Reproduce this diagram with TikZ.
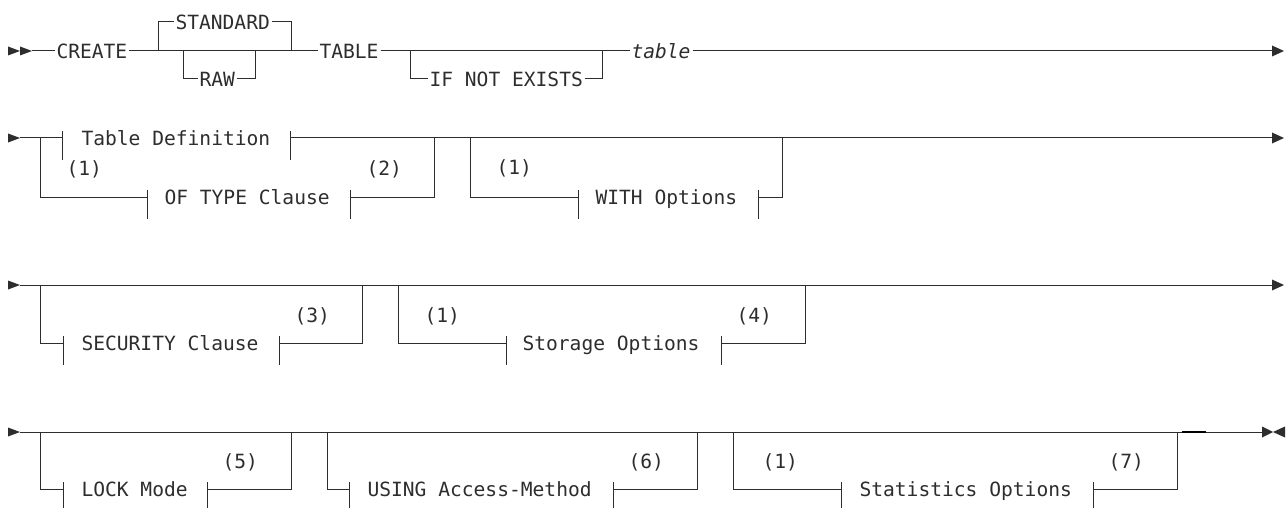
\documentclass[tikz,border=0pt]{standalone}
\usepackage{fontspec}
\newfontfamily\rr{DejaVu Sans Mono}
\definecolor{ink}{RGB}{45,45,45}
\newcommand\rbar[1]{\draw ([yshift=7pt]#1) -- ([yshift=-22pt]#1);}
\tikzset{
  kw/.style={anchor=west, inner xsep=1.5pt, inner ysep=0pt, text height=14.4pt, text depth=0pt,
             font=\rr\fontsize{19.6}{22}\selectfont, text=ink},
  note/.style={anchor=base west, inner sep=0pt, font=\rr\fontsize{19.6}{22}\selectfont, text=ink},
}
\begin{document}
\begin{tikzpicture}[x=1pt,y=-1pt,line width=1pt,draw=ink]
\path[use as bounding box] (0,0) rectangle (1287,508);
\clip (0,0) rectangle (1287,508);
% ---------------- row 1 ----------------
\fill[ink] (8,46.5) -- (20,51) -- (8,55.5) -- cycle;
\fill[ink] (20,46.5) -- (32,51) -- (20,55.5) -- cycle;
\coordinate (s1) at (32,51);
\node[kw] (create) at (54.5,51) {CREATE};
\node[kw] (standard) at (173.5,22) {STANDARD};
\node[kw] (raw) at (197.5,79) {RAW};
\node[kw] (tbl) at (317.5,51) {TABLE};
\node[kw] (ifne) at (427.5,79) {IF NOT EXISTS};
\node[kw] (tablev) at (629.5,51) {\itshape table};
\coordinate (j1a) at (158,51); \coordinate (j1b) at (291,51);
\coordinate (j2a) at (183,51); \coordinate (j2b) at (255,51);
\coordinate (j3a) at (410,51); \coordinate (j3b) at (602,51);
\coordinate (e1) at (1272,51);
\draw (s1) -- (create.west);
\draw (create.east) -- (tbl.west);
\draw (j1a) |- (standard.west); \draw (standard.east) -| (j1b);
\draw (j2a) |- (raw.west); \draw (raw.east) -| (j2b);
\draw (tbl.east) -- (tablev.west);
\draw (j3a) |- (ifne.west); \draw (ifne.east) -| (j3b);
\draw (tablev.east) -- (e1);
\fill[ink] (1272,45.5) -- (1284,51) -- (1272,56.5) -- cycle;
% ---------------- row 2 ----------------
\fill[ink] (8,133.5) -- (20,138) -- (8,142.5) -- cycle;
\coordinate (s2) at (20,138);
\coordinate (e2) at (1272,138);
\coordinate (b2a) at (62,138); \coordinate (b2b) at (290,138);
\node[kw] (tdef) at (79.5,138) {Table Definition};
\draw (s2) -- (b2a); \rbar{b2a}
\rbar{b2b} \draw (b2b) -- (e2);
\coordinate (j4a) at (40,138); \coordinate (j4b) at (434,138);
\coordinate (b2c) at (147,197); \coordinate (b2d) at (350,197);
\node[kw] (oftype) at (162.5,197) {OF TYPE Clause};
\draw (j4a) |- (b2c); \rbar{b2c}
\rbar{b2d} \draw (b2d) -| (j4b);
\node[note] (n21) at (66,175.2) {(1)};
\node[note] (n22) at (366,175.2) {(2)};
\coordinate (j5a) at (470,138); \coordinate (j5b) at (782,138);
\coordinate (b2e) at (578,197); \coordinate (b2f) at (758,197);
\node[kw] (withopt) at (593.5,197) {WITH Options};
\draw (j5a) |- (b2e); \rbar{b2e}
\rbar{b2f} \draw (b2f) -| (j5b);
\node[note] (n23) at (496,174.7) {(1)};
\fill[ink] (1272,132.5) -- (1284,138) -- (1272,143.5) -- cycle;
% ---------------- row 3 ----------------
\fill[ink] (8,280.5) -- (20,285) -- (8,289.5) -- cycle;
\coordinate (s3) at (20,285);
\coordinate (e3) at (1272,285);
\draw (s3) -- (e3);
\coordinate (j6a) at (40,285); \coordinate (j6b) at (362,285);
\coordinate (b3a) at (63,343); \coordinate (b3b) at (279,343);
\node[kw] (secur) at (79.5,343) {SECURITY Clause};
\draw (j6a) |- (b3a); \rbar{b3a}
\rbar{b3b} \draw (b3b) -| (j6b);
\node[note] (n33) at (294,322) {(3)};
\coordinate (j7a) at (398,285); \coordinate (j7b) at (805,285);
\coordinate (b3c) at (506,343); \coordinate (b3d) at (721,343);
\node[kw] (storopt) at (520.5,343) {Storage Options};
\draw (j7a) |- (b3c); \rbar{b3c}
\rbar{b3d} \draw (b3d) -| (j7b);
\node[note] (n31) at (424,322) {(1)};
\node[note] (n34) at (736,322) {(4)};
\fill[ink] (1272,279.5) -- (1284,285) -- (1272,290.5) -- cycle;
% ---------------- row 4 ----------------
\fill[ink] (8,427.5) -- (20,432) -- (8,436.5) -- cycle;
\coordinate (s4) at (20,432);
\coordinate (t4a) at (1182,432); \coordinate (t4b) at (1206,432);
\coordinate (e4) at (1262,432);
\draw (s4) -- (e4);
\draw[line width=2.2pt, black] (t4a) -- (t4b);
\coordinate (j8a) at (40,432); \coordinate (j8b) at (291,432);
\coordinate (b4a) at (63,489); \coordinate (b4b) at (207,489);
\node[kw] (lock) at (79.5,489) {LOCK Mode};
\draw (j8a) |- (b4a); \rbar{b4a}
\rbar{b4b} \draw (b4b) -| (j8b);
\node[note] (n45) at (222,468) {(5)};
\coordinate (j9a) at (327,432); \coordinate (j9b) at (697,432);
\coordinate (b4c) at (349,489); \coordinate (b4d) at (613,489);
\node[kw] (using) at (365.5,489) {USING Access-Method};
\draw (j9a) |- (b4c); \rbar{b4c}
\rbar{b4d} \draw (b4d) -| (j9b);
\node[note] (n46) at (628,468) {(6)};
\coordinate (j10a) at (733,432); \coordinate (j10b) at (1177,432);
\coordinate (b4e) at (841,489); \coordinate (b4f) at (1093,489);
\node[kw] (stats) at (857.5,489) {Statistics Options};
\draw (j10a) |- (b4e); \rbar{b4e}
\rbar{b4f} \draw (b4f) -| (j10b);
\node[note] (n41) at (762,468) {(1)};
\node[note] (n47) at (1108,468) {(7)};
\fill[ink] (1262,426.5) -- (1273,432) -- (1262,437.5) -- cycle;
\fill[ink] (1285,426.5) -- (1273,432) -- (1285,437.5) -- cycle;
\end{tikzpicture}
\end{document}
